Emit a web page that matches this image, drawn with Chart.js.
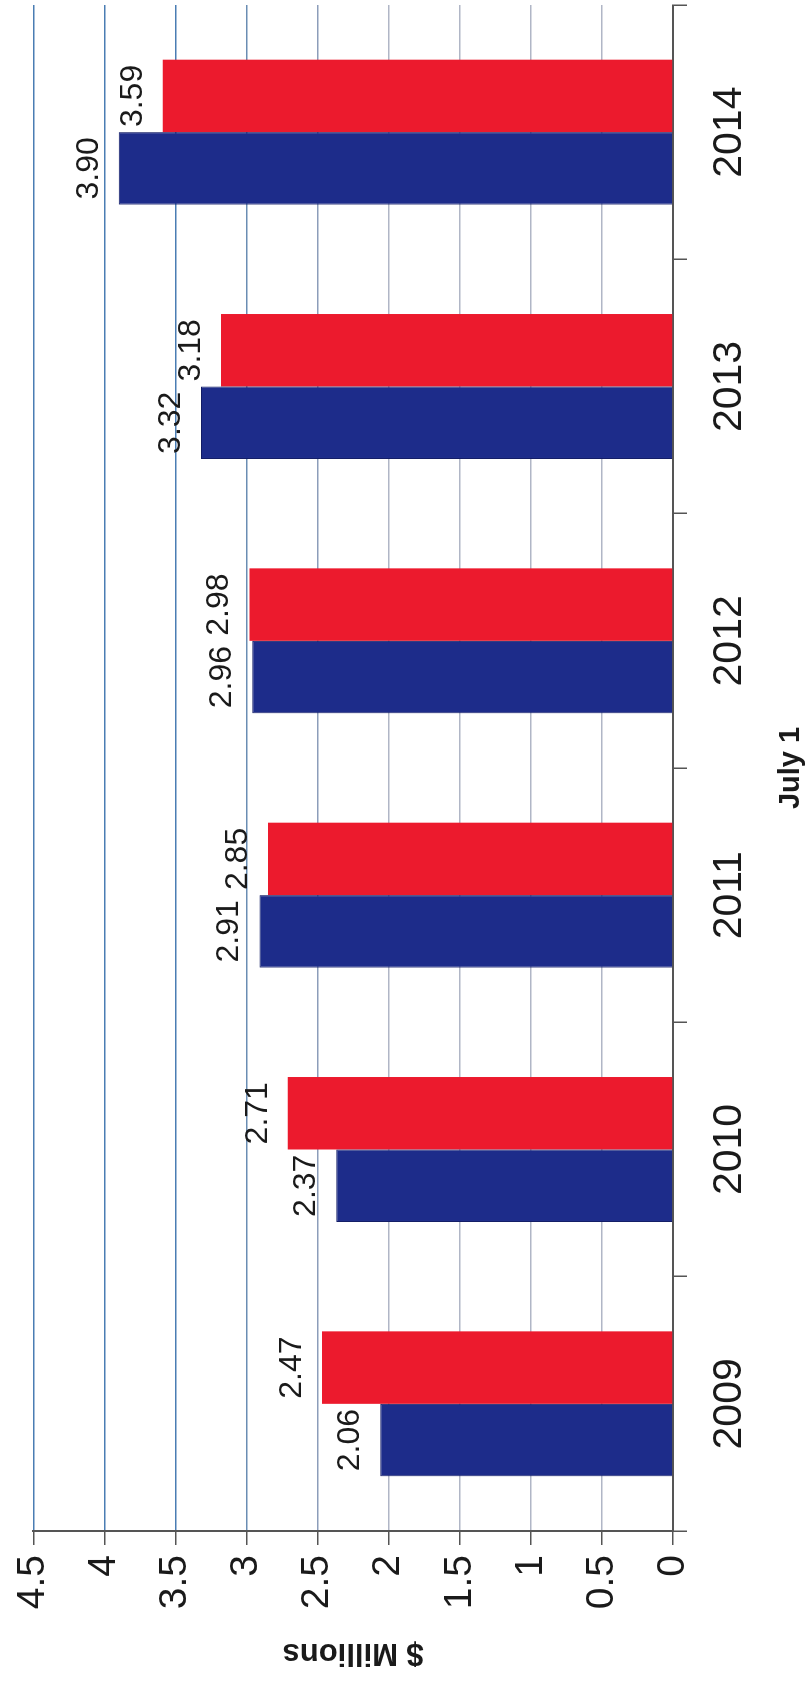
<!DOCTYPE html>
<html>
<head>
<meta charset="utf-8">
<script src="https://cdn.jsdelivr.net/npm/chart.js@4.4.1/dist/chart.umd.min.js"></script>
<style>
  html, body { margin: 0; padding: 0; background: #fff; }
  body { width: 810px; height: 1694px; overflow: hidden; position: relative; }
  /* the chart is drawn upright and then turned a quarter turn anticlockwise */
  #wrap {
    position: absolute; left: 0; top: 0;
    width: 1694px; height: 810px;
    transform-origin: 0 0;
    transform: translate(0, 1694px) rotate(-90deg);
  }
</style>
</head>
<body>
<div id="wrap"><canvas id="salesChart" width="1694" height="810"></canvas></div>
<script>
    const years = ['2009', '2010', '2011', '2012', '2013', '2014'];
    const blueValues = [2.06, 2.37, 2.91, 2.96, 3.32, 3.90];
    const redValues = [2.47, 2.71, 2.85, 2.98, 3.18, 3.59];
    const valueTicks = [0, 0.5, 1, 1.5, 2, 2.5, 3, 3.5, 4, 4.5];

    const FONT = "'Liberation Sans', Arial, sans-serif";

    // value labels above each bar
    const barLabels = {
        id: 'barLabels',
        afterDatasetsDraw(chart) {
            const ctx = chart.ctx;
            ctx.save();
            ctx.font = '32px ' + FONT;
            ctx.fillStyle = '#1a1a1a';
            ctx.textAlign = 'center';
            ctx.textBaseline = 'alphabetic';
            chart.data.datasets.forEach(function(ds, i) {
                chart.getDatasetMeta(i).data.forEach(function(bar, j) {
                    ctx.fillText(ds.data[j].toFixed(2), bar.x, bar.y - 21);
                });
            });
            ctx.restore();
        }
    };

    function gridColor(ctx) {
        const v = ctx.tick ? ctx.tick.value : 0;
        if (v >= 3.5) return '#4a7db3';
        if (v >= 3) return '#6a8db3';
        if (v >= 2.5) return '#8c9dba';
        return '#b0b6c6';
    }

    new Chart(document.getElementById('salesChart'), {
        type: 'bar',
        data: {
            labels: years,
            datasets: [{
                data: blueValues,
                backgroundColor: '#1d2c8a',
                borderColor: '#121c66',
                borderWidth: 1
            }, {
                data: redValues,
                backgroundColor: '#ec1a2d',
                borderWidth: 0
            }]
        },
        options: {
            responsive: false,
            animation: false,
            devicePixelRatio: 1,
            categoryPercentage: 0.57,
            barPercentage: 1.0,
            layout: { padding: { left: 0, right: 5, top: 29, bottom: 0 } },
            plugins: {
                legend: { display: false },
                tooltip: { enabled: false }
            },
            scales: {
                x: {
                    grid: { drawOnChartArea: false, drawTicks: true, tickLength: 14, color: '#555', lineWidth: 1.5 },
                    border: { display: true, color: '#555', width: 2 },
                    ticks: { color: '#1a1a1a', font: { family: FONT, size: 41 }, padding: 18, maxRotation: 0 },
                    title: { display: true, text: 'July 1', color: '#1a1a1a', font: { family: FONT, size: 29, weight: 'bold' }, padding: { top: 2, bottom: 2 } },
                    afterFit(scale) { scale.height = 137; }
                },
                y: {
                    min: 0,
                    max: 4.5,
                    afterBuildTicks(scale) { scale.ticks = valueTicks.map(v => ({ value: v })); },
                    grid: { color: gridColor, lineWidth: 1.5, tickLength: 14, tickColor: '#555' },
                    border: { display: true, color: '#555', width: 2 },
                    ticks: {
                        color: '#1a1a1a',
                        font: { family: FONT, size: 39 },
                        padding: 10,
                        callback: function(value) { return String(value); }
                    },
                    title: { display: true, text: '$ Millions', color: '#1a1a1a', font: { family: FONT, size: 31, weight: 'bold' }, padding: { top: 23, bottom: 0 } },
                    afterFit(scale) { scale.width = 163; }
                }
            }
        },
        plugins: [barLabels]
    });
</script>
</body>
</html>
